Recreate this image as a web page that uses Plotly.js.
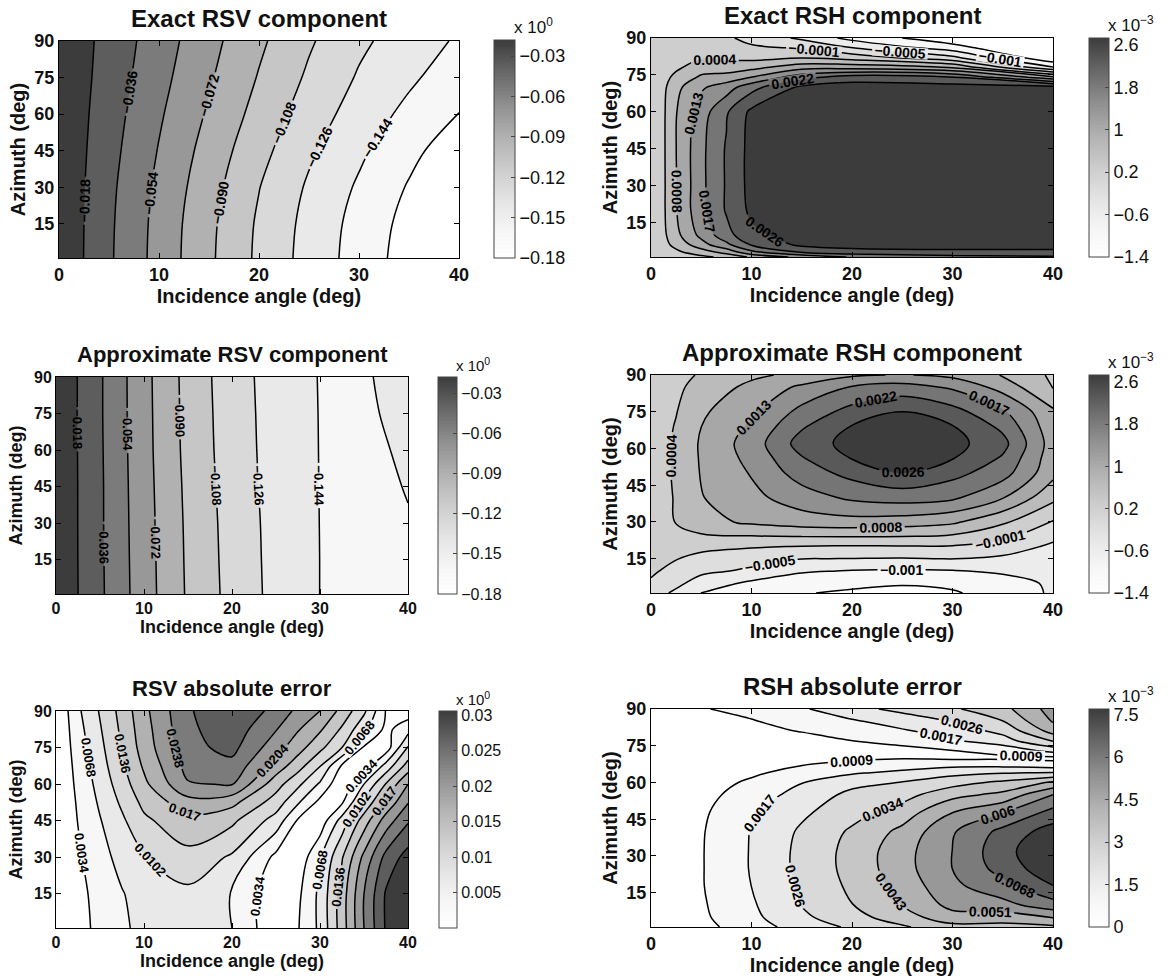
<!DOCTYPE html>
<html>
<head>
<meta charset="utf-8">
<script src="https://cdn.plot.ly/plotly-3.0.1.min.js"></script>
<style>
  html, body { margin: 0; padding: 0; background: #ffffff; }
  #fig { width: 1170px; height: 979px; }
</style>
</head>
<body>
<div id="fig"></div>
<script>
// ---------- grids (incidence angle in deg, azimuth in deg) and sampled values ----------

// Exact / approximate RSV component
const rsvIncidence = [0, 5, 10, 15, 20, 25, 30, 35, 40];
const rsvAzimuth = [1, 15, 30, 45, 60, 75, 90];
const exactRsv = [
  [-0.003, -0.0335, -0.0604, -0.0868, -0.1116, -0.1328, -0.1515, -0.170, -0.185],
  [-0.003, -0.0330, -0.0598, -0.0859, -0.1106, -0.1316, -0.1502, -0.1679, -0.184],
  [-0.003, -0.0319, -0.0580, -0.0830, -0.1075, -0.1285, -0.1464, -0.1635, -0.1785],
  [-0.003, -0.0300, -0.0550, -0.0791, -0.1022, -0.1231, -0.1406, -0.1571, -0.1725],
  [-0.003, -0.0280, -0.0517, -0.0743, -0.0964, -0.1168, -0.1339, -0.1487, -0.1623],
  [-0.003, -0.0258, -0.0483, -0.0699, -0.0912, -0.1108, -0.1278, -0.1409, -0.1538],
  [-0.003, -0.0243, -0.0454, -0.0663, -0.0867, -0.1058, -0.1224, -0.1349, -0.1463]
];
const approxRsv = [
  [-0.003, -0.0329, -0.0639, -0.0922, -0.1139, -0.1314, -0.1441, -0.1500, -0.1530],
  [-0.003, -0.0332, -0.0643, -0.0927, -0.1145, -0.1317, -0.1441, -0.1490, -0.1510],
  [-0.003, -0.0334, -0.0648, -0.0932, -0.1151, -0.1320, -0.1442, -0.1475, -0.1445],
  [-0.003, -0.0334, -0.0654, -0.0940, -0.1161, -0.1326, -0.1443, -0.1465, -0.1436],
  [-0.003, -0.0337, -0.0660, -0.0950, -0.1170, -0.1330, -0.1444, -0.1458, -0.1428],
  [-0.003, -0.0340, -0.0663, -0.0955, -0.1176, -0.1332, -0.1445, -0.1452, -0.1418],
  [-0.003, -0.0340, -0.0666, -0.0960, -0.1183, -0.1335, -0.1447, -0.1448, -0.1410]
];

// RSV absolute error
const rsvErrIncidence = [0, 2.5, 5, 7.5, 10, 15, 20, 25, 27.5, 30, 32.5, 35, 37.5, 40];
const rsvErrAzimuth = [1, 15, 30, 45, 52.5, 60, 67.5, 75, 82.5, 90];
const rsvAbsError = [
  [0, 0.0022, 0.0043, 0.0062, 0.0078, 0.0089, 0.0068, 0.0008, 0.0032, 0.0075, 0.0153, 0.0238, 0.0310, 0.0340],
  [0, 0.0024, 0.0046, 0.0066, 0.0082, 0.0094, 0.0066, 0.0010, 0.0027, 0.0076, 0.0153, 0.0238, 0.0310, 0.0340],
  [0, 0.0029, 0.0056, 0.0079, 0.0100, 0.0125, 0.0097, 0.0025, 0.0011, 0.0064, 0.0133, 0.0213, 0.0283, 0.0320],
  [0, 0.0035, 0.0066, 0.0096, 0.0129, 0.0160, 0.0143, 0.0088, 0.0030, 0.0013, 0.0082, 0.0153, 0.0220, 0.0268],
  [0, 0.0038, 0.0073, 0.0108, 0.0145, 0.0190, 0.0180, 0.0120, 0.0072, 0.0024, 0.0030, 0.0110, 0.0178, 0.0236],
  [0, 0.0042, 0.0080, 0.0120, 0.0162, 0.0235, 0.0240, 0.0150, 0.0110, 0.0063, 0.0005, 0.0068, 0.0138, 0.0204],
  [0, 0.0046, 0.0087, 0.0130, 0.0175, 0.0250, 0.0262, 0.0190, 0.0150, 0.0104, 0.0030, 0.0012, 0.0080, 0.0150],
  [0, 0.0051, 0.0093, 0.0138, 0.0185, 0.0262, 0.0282, 0.0218, 0.0184, 0.0145, 0.0102, 0.0030, 0.0015, 0.0105],
  [0, 0.0056, 0.0099, 0.0143, 0.0190, 0.0265, 0.0292, 0.0240, 0.0207, 0.0175, 0.0131, 0.0077, 0.0025, 0.0055],
  [0, 0.0062, 0.0105, 0.0148, 0.0195, 0.0268, 0.0300, 0.0262, 0.0229, 0.0204, 0.0159, 0.0109, 0.0032, 0.0015]
];

// Exact RSH component
const exactRshIncidence = [0, 1, 2.5, 5, 7.5, 10, 15, 20, 30, 40];
const exactRshAzimuth = [1, 3, 6, 10, 20, 30, 45, 60, 70, 74, 78, 82, 86, 90];
const exactRsh = [
  [0.00005, 0.00010, 0.00015, 0.00028, 0.00048, 0.00090, 0.00140, 0.00175, 0.00200, 0.00210],
  [0.00005, 0.00015, 0.00030, 0.00060, 0.00100, 0.00160, 0.00220, 0.00240, 0.00250, 0.00250],
  [0.00005, 0.00020, 0.00050, 0.00110, 0.00160, 0.00220, 0.00270, 0.00280, 0.00280, 0.00280],
  [0.00005, 0.00020, 0.00070, 0.00140, 0.00200, 0.00250, 0.00280, 0.00280, 0.00280, 0.00280],
  [0.00005, 0.00022, 0.00080, 0.00160, 0.00220, 0.00270, 0.00280, 0.00280, 0.00280, 0.00280],
  [0.00005, 0.00022, 0.00080, 0.00160, 0.00220, 0.00275, 0.00280, 0.00280, 0.00280, 0.00280],
  [0.00005, 0.00022, 0.00082, 0.00160, 0.00220, 0.00275, 0.00280, 0.00280, 0.00280, 0.00280],
  [0.00005, 0.00022, 0.00080, 0.00150, 0.00210, 0.00270, 0.00280, 0.00280, 0.00280, 0.00280],
  [0.00005, 0.00020, 0.00070, 0.00120, 0.00150, 0.00200, 0.00270, 0.00280, 0.00280, 0.00280],
  [0.00005, 0.00018, 0.00050, 0.00090, 0.00100, 0.00128, 0.00200, 0.00240, 0.00220, 0.00095],
  [0.00005, 0.00015, 0.00030, 0.00060, 0.00060, 0.00070, 0.00110, 0.00110, 0.00080, -0.00090],
  [0.00005, 0.00012, 0.00020, 0.00035, 0.00030, 0.00025, 0.00035, 0.00020, -0.00040, -0.00180],
  [0.00005, 0.00010, 0.00015, 0.00020, 0.00012, 0.00000, -0.00010, -0.00050, -0.00120, -0.00210],
  [0.00005, 0.00010, 0.00010, 0.00010, 0.00000, -0.00020, -0.00060, -0.00110, -0.00170, -0.00220]
];

// Approximate RSH component
const approxRshIncidence = [0, 2.5, 5, 10, 15, 20, 25, 30, 35, 40];
const approxRshAzimuth = [1, 5, 10, 15, 20, 30, 40, 50, 56, 62, 69, 75, 85, 90];
const approxRsh = [
  [-0.00030, -0.00060, -0.00096, -0.00120, -0.00138, -0.00145, -0.00150, -0.00145, -0.00120, -0.00090],
  [-0.00012, -0.00040, -0.00070, -0.00105, -0.00125, -0.00132, -0.00137, -0.00130, -0.00110, -0.00090],
  [0.00000, -0.00020, -0.00042, -0.00058, -0.00090, -0.00098, -0.00101, -0.00098, -0.00090, -0.00080],
  [0.00005, -0.00005, -0.00020, -0.00038, -0.00050, -0.00052, -0.00054, -0.00050, -0.00060, -0.00070],
  [0.00010, 0.00010, 0.00005, -0.00002, -0.00008, -0.00010, -0.00009, -0.00010, -0.00025, -0.00060],
  [0.00010, 0.00040, 0.00068, 0.00090, 0.00105, 0.00110, 0.00105, 0.00090, 0.00045, -0.00010],
  [0.00010, 0.00042, 0.00080, 0.00115, 0.00150, 0.00180, 0.00190, 0.00180, 0.00130, 0.00050],
  [0.00010, 0.00045, 0.00085, 0.00130, 0.00192, 0.00230, 0.00260, 0.00230, 0.00190, 0.00095],
  [0.00010, 0.00045, 0.00087, 0.00140, 0.00212, 0.00262, 0.00282, 0.00262, 0.00210, 0.00101],
  [0.00010, 0.00045, 0.00088, 0.00147, 0.00235, 0.00275, 0.00290, 0.00275, 0.00230, 0.00105],
  [0.00010, 0.00041, 0.00082, 0.00134, 0.00210, 0.00262, 0.00282, 0.00262, 0.00205, 0.00098],
  [0.00010, 0.00036, 0.00075, 0.00118, 0.00185, 0.00232, 0.00260, 0.00232, 0.00178, 0.00090],
  [0.00005, 0.00030, 0.00052, 0.00095, 0.00135, 0.00175, 0.00190, 0.00165, 0.00110, 0.00035],
  [0.00005, 0.00025, 0.00042, 0.00072, 0.00095, 0.00120, 0.00130, 0.00115, 0.00080, 0.00030]
];

// RSH absolute error
const rshErrIncidence = [0, 5, 10, 15, 20, 25, 30, 35, 40];
const rshErrAzimuth = [1, 5, 10, 18, 25, 32, 40, 48, 55, 60, 64, 67, 70, 73, 77, 81, 85, 90];
const rshAbsError = [
  [0.0001, 0.00060, 0.00130, 0.00210, 0.00270, 0.00330, 0.00400, 0.00400, 0.00410],
  [0.0001, 0.00070, 0.00150, 0.00240, 0.00310, 0.00390, 0.00480, 0.00470, 0.00520],
  [0.0001, 0.00075, 0.00160, 0.00260, 0.00340, 0.00430, 0.00540, 0.00570, 0.00650],
  [0.0001, 0.00080, 0.00172, 0.00270, 0.00360, 0.00460, 0.00580, 0.00660, 0.00770],
  [0.0001, 0.00080, 0.00177, 0.00280, 0.00370, 0.00480, 0.00600, 0.00720, 0.00830],
  [0.0001, 0.00080, 0.00177, 0.00280, 0.00370, 0.00480, 0.00600, 0.00740, 0.00850],
  [0.0001, 0.00078, 0.00175, 0.00270, 0.00355, 0.00450, 0.00590, 0.00710, 0.00810],
  [0.0001, 0.00070, 0.00160, 0.00240, 0.00310, 0.00380, 0.00510, 0.00590, 0.00710],
  [0.0001, 0.00055, 0.00130, 0.00200, 0.00280, 0.00310, 0.00400, 0.00450, 0.00600],
  [0.0001, 0.00045, 0.00100, 0.00168, 0.00230, 0.00260, 0.00310, 0.00360, 0.00440],
  [0.0001, 0.00035, 0.00070, 0.00120, 0.00160, 0.00190, 0.00230, 0.00250, 0.00260],
  [0.0001, 0.00028, 0.00050, 0.00085, 0.00110, 0.00130, 0.00150, 0.00150, 0.00130],
  [0.0001, 0.00020, 0.00035, 0.00050, 0.00070, 0.00080, 0.00070, 0.00070, 0.00060],
  [0.0001, 0.00020, 0.00030, 0.00040, 0.00050, 0.00060, 0.00085, 0.00110, 0.00200],
  [0.0001, 0.00028, 0.00040, 0.00050, 0.00085, 0.00110, 0.00160, 0.00220, 0.00350],
  [0.0001, 0.00040, 0.00060, 0.00090, 0.00130, 0.00160, 0.00210, 0.00280, 0.00460],
  [0.0001, 0.00060, 0.00080, 0.00120, 0.00160, 0.00210, 0.00260, 0.00340, 0.00520],
  [0.0001, 0.00080, 0.00110, 0.00160, 0.00230, 0.00280, 0.00330, 0.00400, 0.00550]
];

// ---------- contour levels and colour-bar ticks ----------
const rsvLevels = {start: -0.162, end: -0.018, size: 0.018};
const rshLevels = {start: -0.0014, end: 0.0026, size: 0.004 / 9};
const rsvErrLevels = {start: 0.0034, end: 0.0306, size: 0.0034};
const rshErrLevels = {start: 0.0077 / 9, end: 0.0077, size: 0.0077 / 9};

const rsvTickVals = [-0.18, -0.15, -0.12, -0.09, -0.06, -0.03];
const rsvTickText = ['\u22120.18', '\u22120.15', '\u22120.12', '\u22120.09', '\u22120.06', '\u22120.03'];
const rshTickVals = [-0.0014, -0.0006, 0.0002, 0.001, 0.0018, 0.0026];
const rshTickText = ['\u22121.4', '\u22120.6', '0.2', '1', '1.8', '2.6'];
const rsvErrTickVals = [0.005, 0.01, 0.015, 0.02, 0.025, 0.03];
const rsvErrTickText = ['0.005', '0.01', '0.015', '0.02', '0.025', '0.03'];
const rshErrTickVals = [0, 0.0015, 0.003, 0.0045, 0.006, 0.0075];
const rshErrTickText = ['0', '1.5', '3', '4.5', '6', '7.5'];

const xTickVals = [0, 10, 20, 30, 40];
const yTickVals = [15, 30, 45, 60, 75, 90];

// ---------- page geometry (pixels) ----------
const W = 1170, H = 979;
const fx = px => px / W;
const fy = py => 1 - py / H;
const FONT = 'Liberation Sans, Arial, Helvetica, sans-serif';

// reversed gray map: white for low values, dark gray for high values
const GRAY = [
  [0, '#ffffff'], [0.12, '#f6f6f6'], [0.25, '#e6e6e6'], [0.4, '#cecece'],
  [0.55, '#b2b2b2'], [0.7, '#909090'], [0.85, '#686868'], [1, '#3c3c3c']
];

// box: plot area [left, right, top, bottom]; cb: colour bar [left, right, top, bottom]; fs: text scale
const panels = [
  {title: 'Exact RSV component', x: rsvIncidence, y: rsvAzimuth, z: exactRsv, lv: rsvLevels, fmt: '.3f',
   range: [-0.18, -0.018], tv: rsvTickVals, tt: rsvTickText, exp: '0',
   box: [59, 459, 41, 258], cb: [494, 515, 40, 258], fs: 1.1},
  {title: 'Exact RSH component', x: exactRshIncidence, y: exactRshAzimuth, z: exactRsh, lv: rshLevels, fmt: '.4~f',
   range: [-0.0014, 0.00273], tv: rshTickVals, tt: rshTickText, exp: '\u22123',
   box: [651, 1053, 38, 257], cb: [1089, 1109, 38, 257], fs: 1.1},
  {title: 'Approximate RSV component', x: rsvIncidence, y: rsvAzimuth, z: approxRsv, lv: rsvLevels, fmt: '.3f',
   range: [-0.18, -0.018], tv: rsvTickVals, tt: rsvTickText, exp: '0',
   box: [56, 408, 377, 594], cb: [438, 457, 377, 594], fs: 1},
  {title: 'Approximate RSH component', x: approxRshIncidence, y: approxRshAzimuth, z: approxRsh, lv: rshLevels, fmt: '.4~f',
   range: [-0.0014, 0.00273], tv: rshTickVals, tt: rshTickText, exp: '\u22123',
   box: [651, 1053, 375, 593], cb: [1089, 1109, 375, 593], fs: 1.1},
  {title: 'RSV absolute error', x: rsvErrIncidence, y: rsvErrAzimuth, z: rsvAbsError, lv: rsvErrLevels, fmt: '.4~f',
   range: [0, 0.0306], tv: rsvErrTickVals, tt: rsvErrTickText, exp: '0',
   box: [56, 408, 711, 928], cb: [439, 457, 711, 928], fs: 1},
  {title: 'RSH absolute error', x: rshErrIncidence, y: rshErrAzimuth, z: rshAbsError, lv: rshErrLevels, fmt: '.4~f',
   range: [0, 0.0077], tv: rshErrTickVals, tt: rshErrTickText, exp: '\u22123',
   box: [651, 1053, 709, 927], cb: [1089, 1109, 709, 927], fs: 1.1}
];

const data = [];
const annotations = [];
const layout = {
  width: W, height: H,
  margin: {l: 0, r: 0, t: 0, b: 0},
  paper_bgcolor: '#ffffff', plot_bgcolor: '#ffffff',
  showlegend: false,
  font: {family: FONT, color: '#111111'},
  annotations: annotations
};

panels.forEach((p, i) => {
  const n = i === 0 ? '' : String(i + 1);
  const [x0, x1, y0, y1] = p.box;
  const [c0, c1, d0, d1] = p.cb;
  const s = p.fs;

  // continuous shading underneath, used for the colour bar
  data.push({
    type: 'heatmap', x: p.x, y: p.y, z: p.z,
    xaxis: 'x' + n, yaxis: 'y' + n,
    zmin: p.range[0], zmax: p.range[1], zsmooth: 'best',
    colorscale: GRAY, hoverinfo: 'skip', showscale: true,
    colorbar: {
      x: fx(c0), xanchor: 'left', xpad: 0,
      y: fy(d0), yanchor: 'top', ypad: 0,
      len: d1 - d0, lenmode: 'pixels',
      thickness: c1 - c0, thicknessmode: 'pixels',
      outlinewidth: 1, outlinecolor: '#444444', borderwidth: 0,
      tickmode: 'array', tickvals: p.tv, ticktext: p.tt,
      ticks: 'inside', ticklen: 4, tickcolor: '#444444',
      tickfont: {family: FONT, size: Math.round(16 * s), color: '#111111'}
    }
  });

  // filled contours with labelled black lines
  data.push({
    type: 'contour', x: p.x, y: p.y, z: p.z,
    xaxis: 'x' + n, yaxis: 'y' + n,
    autocontour: false,
    contours: {
      start: p.lv.start, end: p.lv.end, size: p.lv.size,
      coloring: 'fill', showlabels: true,
      labelformat: p.fmt,
      labelfont: {family: FONT, size: Math.round(13 * s), color: '#000000', weight: 'bold'}
    },
    colorscale: GRAY, showscale: false,
    line: {color: '#000000', width: 1.5, smoothing: 1},
    hoverinfo: 'skip'
  });

  const axisCommon = {
    showline: true, linecolor: '#000000', linewidth: 1, mirror: 'allticks',
    ticks: 'inside', ticklen: 5, tickcolor: '#000000',
    showgrid: false, zeroline: false,
    tickfont: {family: FONT, size: Math.round(16 * s), color: '#111111', weight: 'bold'}
  };
  layout['xaxis' + n] = Object.assign({}, axisCommon, {
    domain: [fx(x0), fx(x1)], anchor: 'y' + n, range: [0, 40],
    tickmode: 'array', tickvals: xTickVals,
    title: {text: 'Incidence angle (deg)', standoff: 2,
            font: {family: FONT, size: Math.round(18 * s), color: '#111111', weight: 'bold'}}
  });
  layout['yaxis' + n] = Object.assign({}, axisCommon, {
    domain: [fy(y1), fy(y0)], anchor: 'x' + n, range: [1, 90],
    tickmode: 'array', tickvals: yTickVals,
    title: {text: 'Azimuth (deg)', standoff: s > 1 ? 3 : 6,
            font: {family: FONT, size: Math.round(18 * s), color: '#111111', weight: 'bold'}}
  });

  // panel title, vertically centred about 23 px above the plot area
  annotations.push({
    xref: 'paper', yref: 'paper', x: fx((x0 + x1) / 2), y: fy(y0 - 23),
    xanchor: 'center', yanchor: 'middle', showarrow: false,
    text: p.title, font: {family: FONT, size: Math.round(22 * s), color: '#111111', weight: 'bold'}
  });
  annotations.push({
    xref: 'paper', yref: 'paper', x: fx(c1 - 3), y: fy(d0 - 1),
    xanchor: 'left', yanchor: 'bottom', showarrow: false,
    text: 'x 10<sup>' + p.exp + '</sup>', font: {family: FONT, size: Math.round(15 * s), color: '#111111'}
  });
});

Plotly.newPlot('fig', data, layout, {staticPlot: true, displayModeBar: false});
</script>
</body>
</html>
